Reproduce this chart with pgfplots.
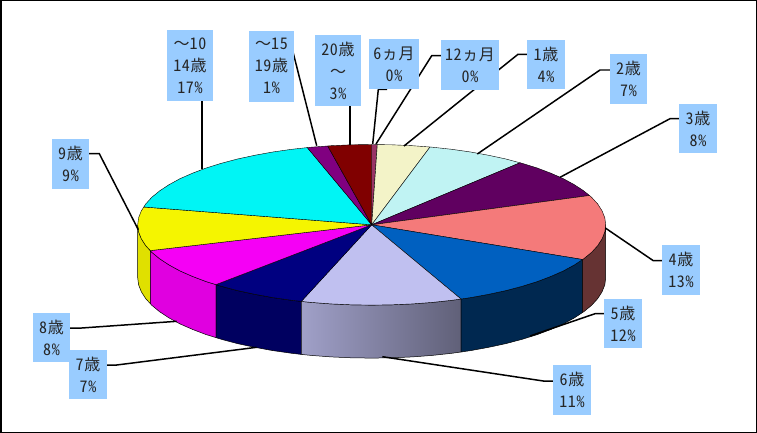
\documentclass[border=0pt]{standalone}
\usepackage{fontspec}
\setmainfont{Noto Sans CJK JP}[RawFeature={+hwid},LetterSpace=4]
\newfontfamily\fw{Noto Sans CJK JP}
\usepackage{pgfplots}
\pgfplotsset{compat=1.18}
\definecolor{boxc}{HTML}{99CCFF}
\newcommand{\lab}[5]{%
  \fill[boxc] (axis cs:#1,#2) rectangle (axis cs:#3,#4);
  \node[align=center,inner sep=0pt,font=\fontsize{16bp}{22bp}\selectfont,text=black!85]
    at (axis cs:{(#1+#3)/2},{(#2+#4)/2}) {#5};
}
\newcommand{\tl}{{\fw ～}}
\begin{document}
\begin{tikzpicture}
\path[use as bounding box] (0,0) rectangle (757bp,433bp);
\begin{axis}[at={(0,0)},anchor=south west,scale only axis,width=757bp,height=433bp,
  xmin=0,xmax=757,ymin=0,ymax=433,y dir=reverse,hide axis,clip=false,no markers]
% side walls
\addplot[draw=black,line width=0.5pt,fill={rgb,255:red,224;green,224;blue,0}] coordinates {(137.7,224.8)(138.6,231.8)(141.3,238.7)(145.7,245.6)(150.3,250.6)(150.3,303.6)(145.7,298.6)(141.3,291.7)(138.6,284.8)(137.7,277.8)(137.7,224.8)};
\addplot[fill={rgb,255:red,224;green,0;blue,224},draw=black,line width=0.5pt] coordinates {(150.3,250.6)(151.8,252.3)(159.6,258.7)(169.1,264.95)(180,270.9)(192.5,276.4)(206.2,281.6)(216,284.6)(216,337.6)(206.2,334.6)(192.5,329.4)(180,323.9)(169.1,317.95)(159.6,311.7)(151.8,305.3)(150.3,303.6)(150.3,250.6)};
\addplot[fill={rgb,255:red,0;green,0;blue,96},draw=black,line width=0.5pt] coordinates {(216,284.6)(221.3,286.3)(237.5,290.6)(254.7,294.3)(272.8,297.6)(291.7,300.3)(301.3,301.4)(301.3,354.4)(291.7,353.3)(272.8,350.6)(254.7,347.3)(237.5,343.6)(221.3,339.3)(216,337.6)(216,284.6)};
\addplot[left color={rgb,255:red,160;green,160;blue,200},right color={rgb,255:red,96;green,96;blue,120},draw=black,line width=0.5pt] coordinates {(301.3,301.4)(311.1,302.4)(331.1,303.9)(351.3,304.8)(371.7,305.1)(392.1,304.8)(412.3,303.9)(432.3,302.4)(451.7,300.3)(461,299)(461,352)(451.7,353.3)(432.3,355.4)(412.3,356.9)(392.1,357.8)(371.7,358.1)(351.3,357.8)(331.1,356.9)(311.1,355.4)(301.3,354.4)(301.3,301.4)};
\addplot[fill={rgb,255:red,0;green,40;blue,80},draw=black,line width=0.5pt] coordinates {(461,299)(470.6,297.6)(488.7,294.3)(505.9,290.6)(522.1,286.3)(537.2,281.6)(550.9,276.4)(563.4,270.9)(574.3,264.95)(582.5,259.5)(582.5,312.5)(574.3,317.95)(563.4,323.9)(550.9,329.4)(537.2,334.6)(522.1,339.3)(505.9,343.6)(488.7,347.3)(470.6,350.6)(461,352)(461,299)};
\addplot[fill={rgb,255:red,102;green,51;blue,51},draw=black,line width=0.5pt] coordinates {(582.5,259.5)(583.8,258.7)(591.6,252.3)(597.7,245.6)(602.1,238.7)(604.8,231.8)(605.7,224.8)(605.7,277.8)(604.8,284.8)(602.1,291.7)(597.7,298.6)(591.6,305.3)(583.8,311.7)(582.5,312.5)(582.5,259.5)};
% top slices
\addplot[fill={rgb,255:red,153;green,51;blue,102},draw=black,line width=0.4pt] coordinates {(371.7,224.8)(371.7,144.5)(377.3,144.6)(371.7,224.8)};
\addplot[fill={rgb,255:red,243;green,243;blue,200},draw=black,line width=0.4pt] coordinates {(371.7,224.8)(377.3,144.6)(392.1,144.8)(412.3,145.7)(430,147)(371.7,224.8)};
\addplot[fill={rgb,255:red,192;green,243;blue,243},draw=black,line width=0.4pt] coordinates {(371.7,224.8)(430,147)(432.3,147.2)(451.7,149.3)(470.6,152)(488.7,155.3)(505.9,159)(520,162.8)(371.7,224.8)};
\addplot[fill={rgb,255:red,96;green,0;blue,96},draw=black,line width=0.4pt] coordinates {(371.7,224.8)(520,162.8)(522.1,163.3)(537.2,168)(550.9,173.2)(563.4,178.7)(574.3,184.65)(583.8,190.9)(589.5,195.5)(371.7,224.8)};
\addplot[fill={rgb,255:red,244;green,122;blue,122},draw=black,line width=0.4pt] coordinates {(371.7,224.8)(589.5,195.5)(591.6,197.3)(597.7,204)(602.1,210.9)(604.8,217.8)(605.7,224.8)(604.8,231.8)(602.1,238.7)(597.7,245.6)(591.6,252.3)(583.8,258.7)(582.5,259.5)(371.7,224.8)};
\addplot[fill={rgb,255:red,0;green,96;blue,192},draw=black,line width=0.4pt] coordinates {(371.7,224.8)(582.5,259.5)(574.3,264.95)(563.4,270.9)(550.9,276.4)(537.2,281.6)(522.1,286.3)(505.9,290.6)(488.7,294.3)(470.6,297.6)(461,299)(371.7,224.8)};
\addplot[fill={rgb,255:red,192;green,192;blue,240},draw=black,line width=0.4pt] coordinates {(371.7,224.8)(461,299)(451.7,300.3)(432.3,302.4)(412.3,303.9)(392.1,304.8)(371.7,305.1)(351.3,304.8)(331.1,303.9)(311.1,302.4)(301.3,301.4)(371.7,224.8)};
\addplot[fill={rgb,255:red,0;green,0;blue,128},draw=black,line width=0.4pt] coordinates {(371.7,224.8)(301.3,301.4)(291.7,300.3)(272.8,297.6)(254.7,294.3)(237.5,290.6)(221.3,286.3)(216,284.6)(371.7,224.8)};
\addplot[fill={rgb,255:red,245;green,0;blue,245},draw=black,line width=0.4pt] coordinates {(371.7,224.8)(216,284.6)(206.2,281.6)(192.5,276.4)(180,270.9)(169.1,264.95)(159.6,258.7)(151.8,252.3)(150.3,250.6)(371.7,224.8)};
\addplot[fill={rgb,255:red,245;green,245;blue,0},draw=black,line width=0.4pt] coordinates {(371.7,224.8)(150.3,250.6)(145.7,245.6)(141.3,238.7)(138.6,231.8)(137.7,224.8)(138.6,217.8)(141.3,210.9)(143.8,207)(371.7,224.8)};
\addplot[fill={rgb,255:red,0;green,245;blue,245},draw=black,line width=0.4pt] coordinates {(371.7,224.8)(143.8,207)(145.7,204)(151.8,197.3)(159.6,190.9)(169.1,184.65)(180,178.7)(192.5,173.2)(206.2,168)(221.3,163.3)(237.5,159)(254.7,155.3)(272.8,152)(291.7,149.3)(307.3,147.6)(371.7,224.8)};
\addplot[fill={rgb,255:red,128;green,0;blue,128},draw=black,line width=0.4pt] coordinates {(371.7,224.8)(307.3,147.6)(311.1,147.2)(327.7,146)(371.7,224.8)};
\addplot[fill={rgb,255:red,128;green,0;blue,0},draw=black,line width=0.4pt] coordinates {(371.7,224.8)(327.7,146)(331.1,145.7)(351.3,144.8)(371.7,144.5)(371.7,224.8)};
% leaders
\addplot[black,line width=1.5pt] coordinates {(202,101)(202,169)};
\addplot[black,line width=1.5pt] coordinates {(293,52)(316.7,145.7)};
\addplot[black,line width=1.5pt] coordinates {(350,106)(350,145)};
\addplot[black,line width=1.5pt] coordinates {(387,89.5)(378.3,89.5)(372.7,144)};
\addplot[black,line width=1.5pt] coordinates {(441,55.7)(431.7,55.7)(376,144)};
\addplot[black,line width=1.5pt] coordinates {(527,54.3)(518,54.3)(404,146)};
\addplot[black,line width=1.5pt] coordinates {(610,70)(600,70)(477.3,154)};
\addplot[black,line width=1.5pt] coordinates {(679,118.7)(670,118.7)(560,177.3)};
\addplot[black,line width=1.5pt] coordinates {(662,260.7)(653.3,260.7)(605.3,228)};
\addplot[black,line width=1.5pt] coordinates {(604,313.7)(595,313.7)(530,336)};
\addplot[black,line width=1.5pt] coordinates {(553,381)(543.3,381)(382.3,356.7)};
\addplot[black,line width=1.5pt] coordinates {(107,365)(116.7,365)(256.7,347.3)};
\addplot[black,line width=1.5pt] coordinates {(70,328)(81.7,328)(176.7,321.3)};
\addplot[black,line width=1.5pt] coordinates {(89,153.7)(99.3,153.7)(138.3,229.7)};
% labels
\lab{167}{30}{213}{100.7}{\tl 10\\14歳\\17\%}
\lab{249}{31}{294}{101.7}{\tl 15\\19歳\\1\%}
\lab{315}{35}{361}{106}{20歳\\\tl\\3\%}
\lab{369}{39}{419}{88.7}{6ヵ月\\0\%}
\lab{441}{40}{499}{90}{12ヵ月\\0\%}
\lab{527}{40}{565}{89}{1歳\\4\%}
\lab{610}{54}{647}{104}{2歳\\7\%}
\lab{679}{104}{717}{153}{3歳\\8\%}
\lab{662}{245}{700}{295}{4歳\\13\%}
\lab{604}{299}{642}{348}{5歳\\12\%}
\lab{553}{365}{591}{415}{6歳\\11\%}
\lab{69}{350}{107}{399}{7歳\\7\%}
\lab{33}{313}{70}{362}{8歳\\8\%}
\lab{52}{139}{89}{188.7}{9歳\\9\%}
% frame
\draw[black,line width=1.5bp] (axis cs:0.75,0.75) rectangle (axis cs:756.25,432.25);
\end{axis}
\end{tikzpicture}
\end{document}
